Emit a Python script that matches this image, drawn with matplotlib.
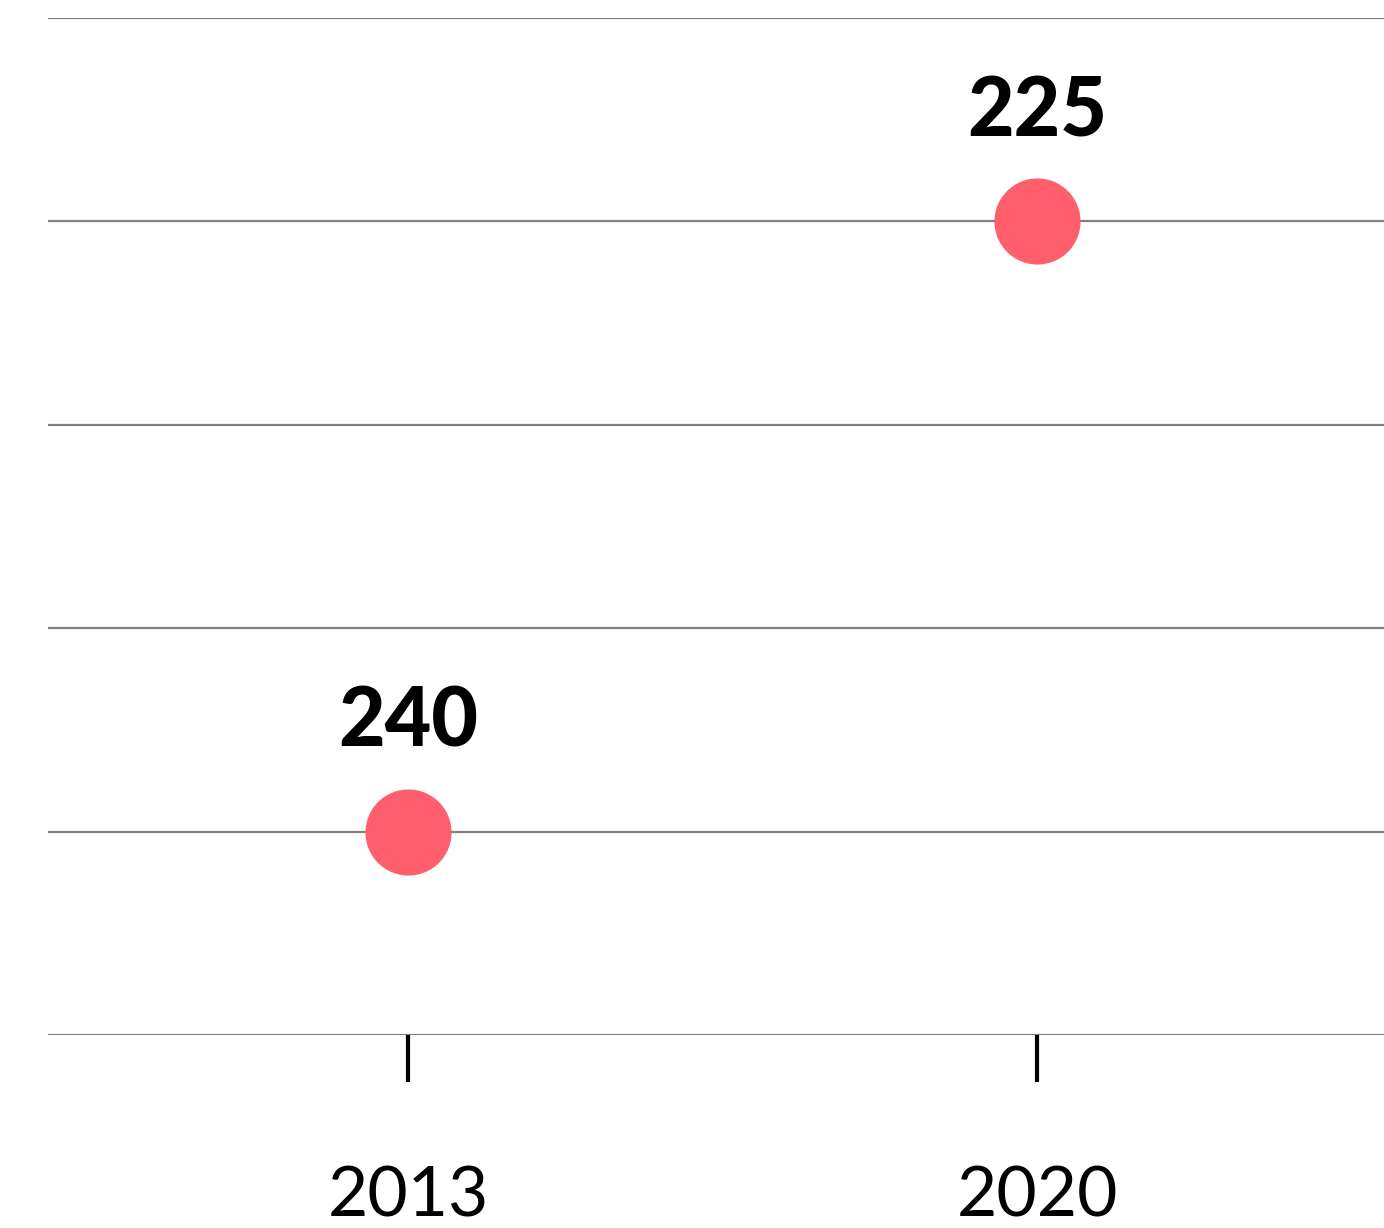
import matplotlib.pyplot as plt

# data
years = [2013, 2020]
values = [240, 225]
labels = ["240", "225"]
grid_levels = [220, 225, 230, 235, 240, 245]

fig = plt.figure(figsize=(13.84, 12.28), dpi=100)
ax = fig.add_axes([48 / 1384, (1228 - 1035) / 1228, 1 - 48 / 1384, (1035 - 18) / 1228])

for g in grid_levels:
    ax.axhline(g, color="#808080", lw=1.6, zorder=1)

ax.plot(years, values, "o", color="#ff5f6d", markersize=62, markeredgewidth=0, zorder=3)

for x, y, s in zip(years, values, labels):
    ax.annotate(s, (x, y), xytext=(0, 61), textcoords="offset points",
                ha="center", va="baseline", fontsize=58, fontweight="black",
                family="Lato", color="black")

ax.set_ylim(245, 220)
ax.set_xlim(2008.99, 2023.86)
ax.set_xticks(years)
ax.set_xticklabels([str(y) for y in years], family="Lato", fontsize=50)
ax.set_yticks([])
ax.tick_params(axis="x", length=34, width=3, color="black", pad=60)
for sp in ax.spines.values():
    sp.set_visible(False)

fig.savefig("out.png", dpi=100)
